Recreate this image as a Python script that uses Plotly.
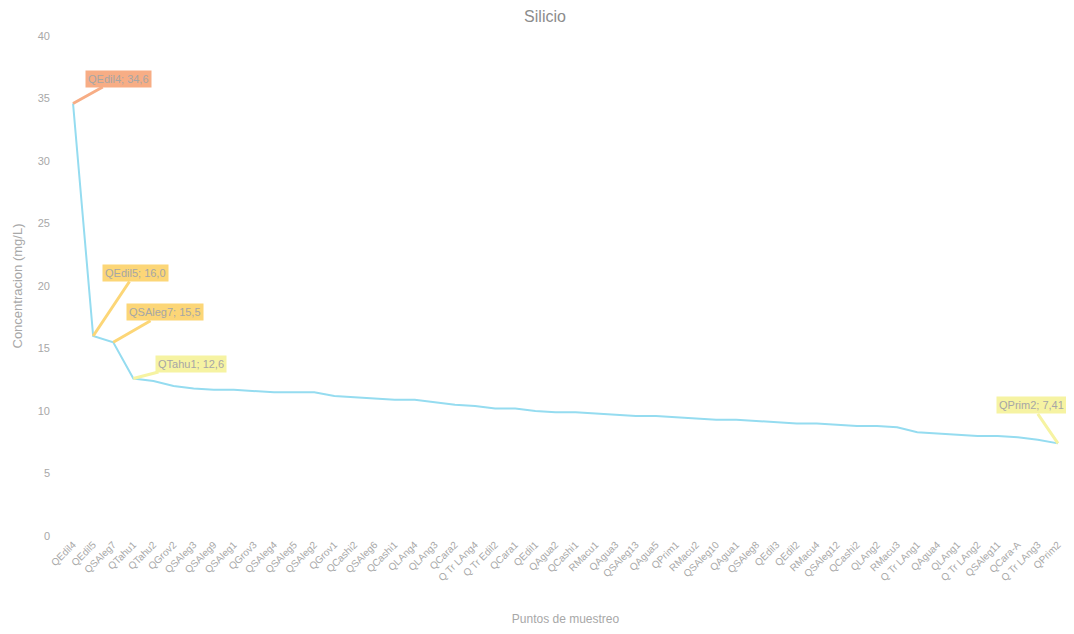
import plotly.graph_objects as go

puntos = ["QEdil4", "QEdil5", "QSAleg7", "QTahu1", "QTahu2", "QGrov2", "QSAleg3", "QSAleg9",
          "QSAleg1", "QGrov3", "QSAleg4", "QSAleg5", "QSAleg2", "QGrov1", "QCashi2", "QSAleg6",
          "QCashi1", "QLAng4", "QLAng3", "QCara2", "Q Tr LAng4", "Q Tr Edil2", "QCara1", "QEdil1",
          "QAgua2", "QCashi1", "RMacu1", "QAgua3", "QSAleg13", "QAgua5", "QPrim1", "RMacu2",
          "QSAleg10", "QAgua1", "QSAleg8", "QEdil3", "QEdil2", "RMacu4", "QSAleg12", "QCashi2",
          "QLAng2", "RMacu3", "Q Tr LAng1", "QAgua4", "QLAng1", "Q Tr LAng2", "QSAleg11",
          "QCara-A", "Q Tr LAng3", "QPrim2"]
silicio = [34.6, 16.0, 15.5, 12.6, 12.4, 12.0, 11.8, 11.7, 11.7, 11.6, 11.5, 11.5, 11.5, 11.2,
           11.1, 11.0, 10.9, 10.9, 10.7, 10.5, 10.4, 10.2, 10.2, 10.0, 9.9, 9.9, 9.8, 9.7, 9.6,
           9.6, 9.5, 9.4, 9.3, 9.3, 9.2, 9.1, 9.0, 9.0, 8.9, 8.8, 8.8, 8.7, 8.3, 8.2, 8.1, 8.0,
           8.0, 7.9, 7.7, 7.41]
y_ticks = [0, 5, 10, 15, 20, 25, 30, 35, 40]

# callouts: index of point, label text
callout_idx = [0, 1, 2, 3, 49]
callout_txt = ["QEdil4; 34,6", "QEdil5; 16,0", "QSAleg7; 15,5", "QTahu1; 12,6", "QPrim2; 7,41"]
callout_col = ["#F7AD85", "#FCD677", "#FCD677", "#F6F3A2", "#F6F3A2"]
callout_off = [(45, -25), (42, -63), (52, -30), (58, -15), (-26, -38)]

xs = list(range(len(puntos)))
grey = "#a8a8a8"

fig = go.Figure()
fig.add_trace(go.Scatter(x=xs, y=silicio, mode="lines",
                         line=dict(color="#95DCF0", width=2), hoverinfo="y"))

for i, t, c, (ax, ay) in zip(callout_idx, callout_txt, callout_col, callout_off):
    fig.add_annotation(x=xs[i], y=silicio[i], text=t, showarrow=True, arrowhead=0,
                       arrowwidth=3, arrowcolor=c, ax=ax, ay=ay, bgcolor=c,
                       borderpad=2, font=dict(size=11, color="#a6a6a6",
                                              family="Liberation Sans"))

fig.update_layout(
    width=1074, height=634,
    paper_bgcolor="white", plot_bgcolor="white",
    margin=dict(l=55, r=14, t=28, b=106),
    showlegend=False,
    font=dict(family="Liberation Sans", color=grey),
    title=dict(text="Silicio", x=0.5, xanchor="center", y=0.986, yanchor="middle",
               font=dict(size=16, color="#8c8c8c")),
)
fig.update_xaxes(tickmode="array", tickvals=xs, ticktext=puntos, tickangle=-45,
                 range=[-0.5, len(puntos) - 0.5], showgrid=False, zeroline=False,
                 showline=False, ticks="", automargin=False,
                 tickfont=dict(size=10, color=grey),
                 title=dict(text="Puntos de muestreo", font=dict(size=12, color=grey),
                            standoff=32))
fig.update_yaxes(range=[0, 40], tickvals=y_ticks, showgrid=False, zeroline=False,
                 showline=False, ticks="", automargin=False,
                 tickfont=dict(size=11, color=grey), ticklabelstandoff=12,
                 title=dict(text="Concentracion (mg/L)", font=dict(size=13, color=grey),
                            standoff=12))

fig.write_html("out.html")
